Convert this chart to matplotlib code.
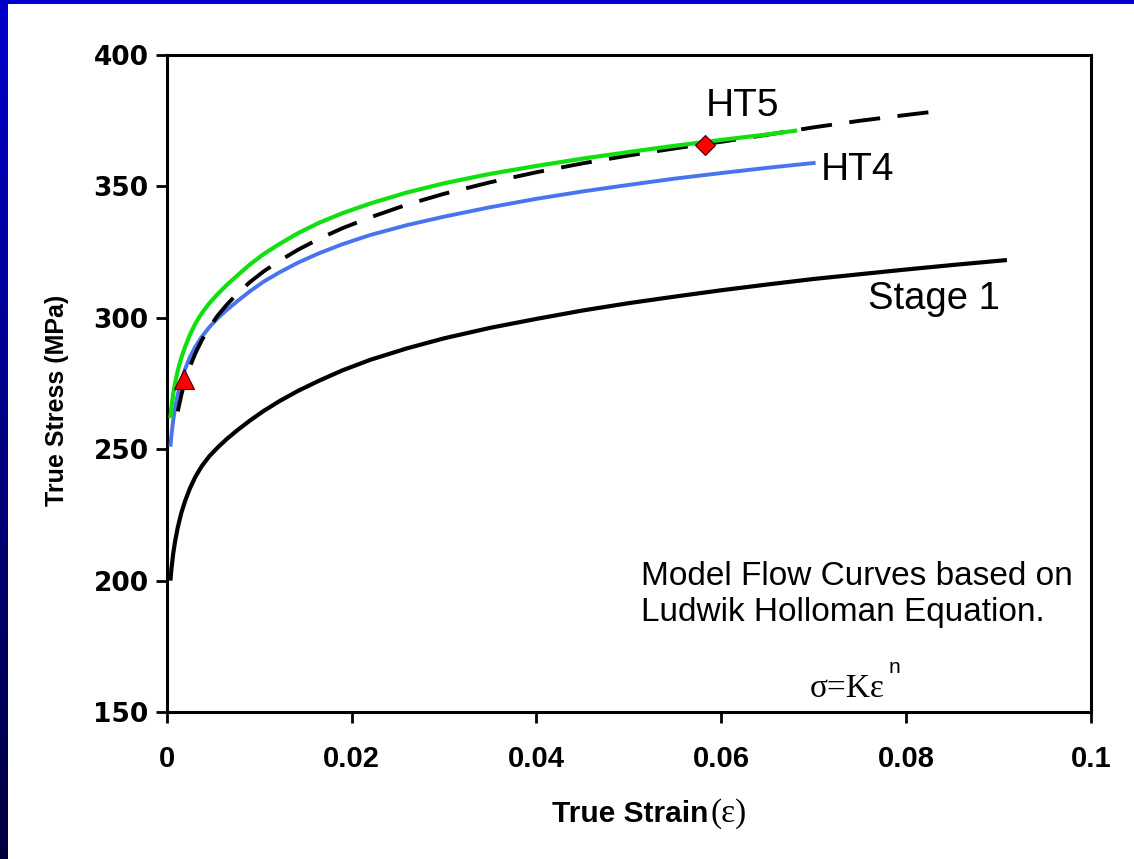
import numpy as np
import matplotlib
matplotlib.use("Agg")
import matplotlib.pyplot as plt
from matplotlib.patches import Rectangle

plt.rcParams['font.family'] = ['Liberation Sans', 'DejaVu Sans']

# flow curves read as (true strain, true stress in MPa)
stage1_strain = [0.0004, 0.0005, 0.0007, 0.0009, 0.0012, 0.0016, 0.0020, 0.0025, 0.0031,
                 0.0038, 0.0046, 0.0055, 0.0065, 0.0077, 0.0090, 0.0105, 0.0122, 0.0142,
                 0.0165, 0.0190, 0.0220, 0.0260, 0.0300, 0.0350, 0.0400, 0.0450, 0.0500,
                 0.0550, 0.0600, 0.0650, 0.0700, 0.0750, 0.0800, 0.0850, 0.0909]
stage1_stress = [200.0, 204.1, 210.2, 214.8, 220.3, 226.0, 230.4, 235.0, 239.5,
                 243.6, 247.3, 250.6, 253.9, 257.4, 260.9, 264.6, 268.3, 272.2,
                 276.1, 280.0, 284.0, 288.4, 292.2, 296.2, 299.6, 302.8, 305.6,
                 308.1, 310.5, 312.7, 314.8, 316.6, 318.4, 320.1, 322.0]

ht4_strain = [0.0004, 0.0005, 0.0007, 0.0009, 0.0012, 0.0016, 0.0020, 0.0025, 0.0031,
              0.0038, 0.0046, 0.0055, 0.0065, 0.0077, 0.0090, 0.0105, 0.0122, 0.0142,
              0.0165, 0.0190, 0.0220, 0.0260, 0.0300, 0.0350, 0.0400, 0.0450, 0.0500,
              0.0550, 0.0600, 0.0650, 0.0702]
ht4_stress = [251.0, 254.9, 260.9, 265.5, 270.9, 276.3, 280.6, 285.0, 289.0,
              292.8, 296.4, 299.8, 303.0, 306.5, 310.1, 313.8, 317.3, 321.0,
              324.6, 328.0, 331.5, 335.3, 338.5, 342.1, 345.3, 348.1, 350.6,
              353.0, 355.1, 357.1, 359.0]

ht5_strain = [0.0004, 0.0005, 0.0007, 0.0009, 0.0012, 0.0016, 0.0020, 0.0025, 0.0031,
              0.0038, 0.0046, 0.0055, 0.0065, 0.0077, 0.0090, 0.0105, 0.0122, 0.0142,
              0.0165, 0.0190, 0.0220, 0.0260, 0.0300, 0.0350, 0.0400, 0.0450, 0.0500,
              0.0550, 0.0600, 0.0650, 0.0682]
ht5_stress = [261.8, 265.5, 271.0, 275.0, 280.0, 285.0, 289.0, 293.5, 297.8,
              301.8, 305.5, 309.0, 312.5, 316.3, 320.3, 324.3, 328.1, 332.2,
              336.2, 339.8, 343.5, 347.7, 351.2, 354.8, 357.8, 360.6, 363.1,
              365.5, 367.7, 369.8, 371.3]

model_strain = [0.0012, 0.0016, 0.0020, 0.0025, 0.0031, 0.0038, 0.0046, 0.0055, 0.0065,
                0.0077, 0.0090, 0.0105, 0.0122, 0.0142, 0.0165, 0.0190, 0.0220, 0.0260,
                0.0300, 0.0350, 0.0400, 0.0450, 0.0500, 0.0550, 0.0600, 0.0650, 0.0700,
                0.0750, 0.0800, 0.0826]
model_stress = [264.4, 270.9, 276.1, 281.3, 286.5, 291.5, 296.2, 300.8, 305.0,
                309.4, 313.6, 317.7, 321.7, 325.9, 330.1, 334.1, 338.2, 343.1,
                347.2, 351.6, 355.4, 358.8, 361.8, 364.5, 367.0, 369.7, 372.5,
                375.0, 377.2, 378.3]

# yield point and fitted end point
yield_pt = (0.0019, 276.7)
end_pt = (0.0582, 365.8)

xticks = [0, 0.02, 0.04, 0.06, 0.08, 0.1]
xticklabels = ['0', '0.02', '0.04', '0.06', '0.08', '0.1']
yticks = [150, 200, 250, 300, 350, 400]

fig = plt.figure(figsize=(11.34, 8.59), dpi=100)
fig.patch.set_facecolor('white')

# blue slide border: gradient down the left edge, flat strip on top
grad = np.linspace(0, 1, 256).reshape(-1, 1)
cmap = matplotlib.colors.LinearSegmentedColormap.from_list(
    'edge', [(0, 0, 0.80), (0, 0, 0.25)])
bax = fig.add_axes([0, 0, 8 / 1134, 1])
bax.imshow(grad, aspect='auto', cmap=cmap, extent=[0, 1, 0, 1], origin='upper')
bax.axis('off')
fig.patches.append(Rectangle((0, 1 - 4 / 859), 1, 4 / 859, transform=fig.transFigure,
                             facecolor=(0, 0, 0.80), edgecolor='none', zorder=5))

ax = fig.add_axes([0.147, 0.1711, 0.8151, 0.7648])
ax.plot(stage1_strain, stage1_stress, color='black', lw=3.0, solid_capstyle='butt', zorder=2)
ax.plot(ht4_strain, ht4_stress, color='#4a74ee', lw=2.8, solid_capstyle='butt', zorder=3)
ax.plot(model_strain, model_stress, color='black', lw=2.8, dashes=(8, 4.5), zorder=3.5)
ax.plot(ht5_strain, ht5_stress, color='#10e010', lw=3.0, solid_capstyle='butt', zorder=4)
ax.plot(*yield_pt, marker='^', ms=15, color='red', mec='#400000', mew=0.8, zorder=6)
ax.plot(*end_pt, marker='D', ms=10.5, color='red', mec='#400000', mew=0.8, zorder=6)

ax.set_xlim(0, 0.1)
ax.set_ylim(150, 400)
ax.set_xticks(xticks)
ax.set_xticklabels(xticklabels, fontsize=21, fontweight='bold')
ax.set_yticks(yticks)
ax.set_yticklabels([str(v) for v in yticks], fontsize=19, fontweight='bold',
                   family='DejaVu Sans')
ax.tick_params(axis='both', direction='out', length=8, width=2, color='black')
ax.tick_params(axis='x', pad=16)
ax.tick_params(axis='y', pad=5)
for s in ax.spines.values():
    s.set_linewidth(2.2)

ax.text(0.5856, -0.167, 'True Strain', transform=ax.transAxes, ha='right', va='baseline',
        fontsize=21.5, fontweight='bold')
ax.text(0.5886, -0.167, '(ε)', transform=ax.transAxes, ha='left', va='baseline',
        fontsize=24, family='Liberation Serif')
ax.text(-0.119, 0.475, 'True Stress (MPa)', transform=ax.transAxes, rotation=90,
        ha='center', va='center', fontsize=18, fontweight='bold')

ax.text(0.0583, 376.7, 'HT5', fontsize=28, ha='left', va='baseline')
ax.text(0.0708, 352.3, 'HT4', fontsize=28, ha='left', va='baseline')
ax.text(0.0759, 303.5, 'Stage 1', fontsize=27.5, ha='left', va='baseline')

ax.text(0.0513, 198.5, 'Model Flow Curves based on', fontsize=24, ha='left', va='baseline')
ax.text(0.0513, 184.5, 'Ludwik Holloman Equation.', fontsize=24, ha='left', va='baseline')
ax.text(0.0696, 155.7, 'σ=Kε', fontsize=24, family='Liberation Serif', ha='left', va='baseline')
ax.text(0.0781, 164.7, 'n', fontsize=15, ha='left', va='baseline')

fig.savefig('out.png', dpi=100, facecolor='white')
